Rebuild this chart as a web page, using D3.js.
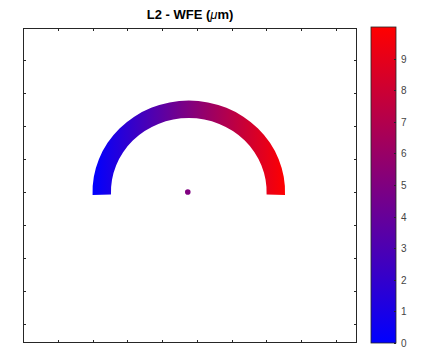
<!DOCTYPE html>
<html>
<head>
<meta charset="utf-8">
<script src="https://cdn.jsdelivr.net/npm/d3@7"></script>
<style>
	body { margin: 0; background: #fff; }
	text { font-family: "Liberation Sans", Arial, sans-serif; }
</style>
</head>
<body>
<div id="chart"></div>
<script>
// data
const xDomain = [-1.0, 8.61]
const yDomain = [-0.58, 8.97]
const xTicks = [0, 1, 2, 3, 4, 5, 6, 7, 8]
const yTicks = [0, 1, 2, 3, 4, 5, 6, 7, 8]
const arcCenter = [3.77, 4.0]
const arcRadii = [2.24, 2.77]          // inner, outer
const arcAngles = [-92, 92]            // degrees, d3 convention (0 = up)
const wfeRange = [0, 10]               // value at left / right edge of the arc
const dotValue = 5
const cbarDomain = [0, 10]
const cbarTicks = [0, 1, 2, 3, 4, 5, 6, 7, 8, 9]

const width = 428
const height = 349
const margin = ({ top: 28, right: 71, bottom: 6, left: 23 })
const plotRight = width - margin.right
const plotBottom = height - margin.bottom

const x = d3.scaleLinear().domain(xDomain).range([margin.left, plotRight])
const y = d3.scaleLinear().domain(yDomain).range([plotBottom, margin.top])
const color = d3.scaleLinear().domain(cbarDomain).range(["#0000ff", "#ff0000"]).interpolate(d3.interpolateRgb)

const svg = d3.select("#chart").append("svg")
	.attr("width", width)
	.attr("height", height)

const defs = svg.append("defs")

// arc: value grows with x, so a horizontal gradient in the arc's own space
const kx = x(1) - x(0)
const ky = y(0) - y(1)
const rOut = arcRadii[1] * kx
const arcGrad = defs.append("linearGradient")
	.attr("id", "arc-grad")
	.attr("gradientUnits", "userSpaceOnUse")
	.attr("x1", -rOut).attr("x2", rOut)
	.attr("y1", 0).attr("y2", 0)
d3.range(0, 11).forEach(i => {
	const v = wfeRange[0] + (wfeRange[1] - wfeRange[0]) * i / 10
	arcGrad.append("stop").attr("offset", i / 10).attr("stop-color", color(v))
})

const cbarGrad = defs.append("linearGradient")
	.attr("id", "cbar-grad")
	.attr("x1", 0).attr("x2", 0).attr("y1", 1).attr("y2", 0)
cbarGrad.append("stop").attr("offset", 0).attr("stop-color", color(cbarDomain[0]))
cbarGrad.append("stop").attr("offset", 1).attr("stop-color", color(cbarDomain[1]))

// plot box
svg.append("rect")
	.attr("x", margin.left + 0.5).attr("y", margin.top + 0.5)
	.attr("width", plotRight - margin.left - 1)
	.attr("height", plotBottom - margin.top - 1)
	.attr("fill", "none")
	.attr("stroke", "#262626")

// inward ticks on all four sides
const tickLen = 3
const tg = svg.append("g").attr("stroke", "#262626")
xTicks.forEach(t => {
	const px = Math.round(x(t)) + 0.5
	tg.append("line").attr("x1", px).attr("x2", px).attr("y1", plotBottom).attr("y2", plotBottom - tickLen)
	tg.append("line").attr("x1", px).attr("x2", px).attr("y1", margin.top).attr("y2", margin.top + tickLen)
})
yTicks.forEach(t => {
	const py = Math.round(y(t)) + 0.5
	tg.append("line").attr("x1", margin.left).attr("x2", margin.left + tickLen).attr("y1", py).attr("y2", py)
	tg.append("line").attr("x1", plotRight).attr("x2", plotRight - tickLen).attr("y1", py).attr("y2", py)
})

// the semicircle band
const arcGen = d3.arc()
	.innerRadius(arcRadii[0] * kx)
	.outerRadius(rOut)
	.startAngle(arcAngles[0] * Math.PI / 180)
	.endAngle(arcAngles[1] * Math.PI / 180)
svg.append("g")
	.attr("transform", `translate(${x(arcCenter[0])},${y(arcCenter[1])}) scale(1,${ky / kx})`)
	.append("path")
	.attr("d", arcGen())
	.attr("fill", "url(#arc-grad)")

// center point
svg.append("circle")
	.attr("cx", x(arcCenter[0]) - 1)
	.attr("cy", y(arcCenter[1]))
	.attr("r", 2.8)
	.attr("fill", color(dotValue))

// title
const title = svg.append("text")
	.attr("x", (margin.left + plotRight) / 2)
	.attr("y", 19)
	.attr("text-anchor", "middle")
	.attr("font-size", 13)
	.attr("font-weight", "bold")
	.attr("fill", "#000")
title.append("tspan").text("L2 - WFE (")
title.append("tspan").attr("font-style", "italic").attr("font-weight", "normal").text("\u03bc")
title.append("tspan").text("m)")

// colorbar
const cbX = 371
const cbW = 25
const cy = d3.scaleLinear().domain(cbarDomain).range([plotBottom, 27])
svg.append("rect")
	.attr("x", cbX).attr("y", cy(cbarDomain[1]))
	.attr("width", cbW)
	.attr("height", cy(cbarDomain[0]) - cy(cbarDomain[1]))
	.attr("fill", "url(#cbar-grad)")
	.attr("stroke", "#262626")
	.attr("stroke-width", 0.8)

const cbAxis = svg.append("g")
cbarTicks.forEach(t => {
	const py = Math.round(cy(t)) + 0.5
	cbAxis.append("line")
		.attr("x1", cbX + cbW).attr("x2", cbX + cbW - 2)
		.attr("y1", py).attr("y2", py)
		.attr("stroke", "#262626")
	cbAxis.append("text")
		.attr("x", cbX + cbW + 5)
		.attr("y", cy(t) + 4)
		.attr("font-size", 10)
		.attr("fill", "#444")
		.text(t)
})
</script>
</body>
</html>
